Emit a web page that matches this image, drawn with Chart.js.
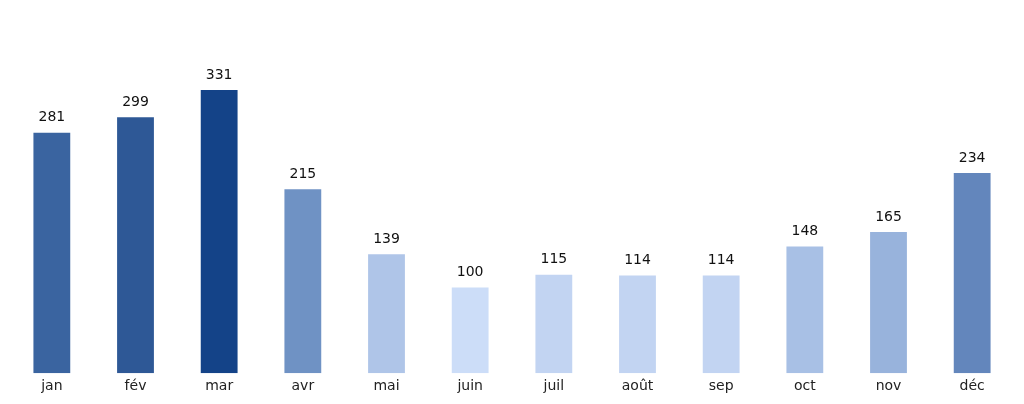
<!DOCTYPE html>
<html>
<head>
<meta charset="utf-8">
<script src="https://cdn.jsdelivr.net/npm/chart.js@4"></script>
<style>
    html, body { margin: 0; padding: 0; background: #fff; }
    #wrap { width: 1024px; height: 404px; }
</style>
</head>
<body>
<div id="wrap"><canvas id="myChart"></canvas></div>
<script>
const months = ['jan', 'fév', 'mar', 'avr', 'mai', 'juin', 'juil', 'août', 'sep', 'oct', 'nov', 'déc'];
const values = [281, 299, 331, 215, 139, 100, 115, 114, 114, 148, 165, 234];
const barColors = ['#3A64A0', '#2E5896', '#144388', '#6F92C4', '#AFC5E8', '#CCDDF8',
                   '#C2D4F2', '#C2D4F2', '#C2D4F2', '#A8C0E5', '#98B3DC', '#6386BC'];

// value labels above each bar
const valueLabels = {
    id: 'valueLabels',
    afterDatasetsDraw(chart) {
        const ctx = chart.ctx;
        const meta = chart.getDatasetMeta(0);
        ctx.save();
        ctx.font = '14px "DejaVu Sans"';
        ctx.fillStyle = '#111';
        ctx.textAlign = 'center';
        ctx.textBaseline = 'bottom';
        meta.data.forEach((bar, i) => {
            ctx.fillText(String(values[i]), bar.x, bar.y - 8);
        });
        ctx.restore();
    }
};

const ctx = document.getElementById('myChart').getContext('2d');
new Chart(ctx, {
    type: 'bar',
    data: {
        labels: months,
        datasets: [{
            data: values,
            backgroundColor: barColors,
            borderWidth: 0,
            categoryPercentage: 1,
            barPercentage: 0.44
        }]
    },
    options: {
        responsive: true,
        maintainAspectRatio: false,
        animation: false,
        events: [],
        layout: { padding: { left: 10, right: 10, top: 0, bottom: 4 } },
        plugins: {
            legend: { display: false },
            tooltip: { enabled: false }
        },
        scales: {
            x: {
                grid: { display: false, drawTicks: false },
                border: { display: false },
                ticks: {
                    color: '#222',
                    padding: 5,
                    font: { family: 'DejaVu Sans', size: 14 }
                }
            },
            y: {
                display: false,
                min: 0,
                max: 436
            }
        }
    },
    plugins: [valueLabels]
});
</script>
</body>
</html>
